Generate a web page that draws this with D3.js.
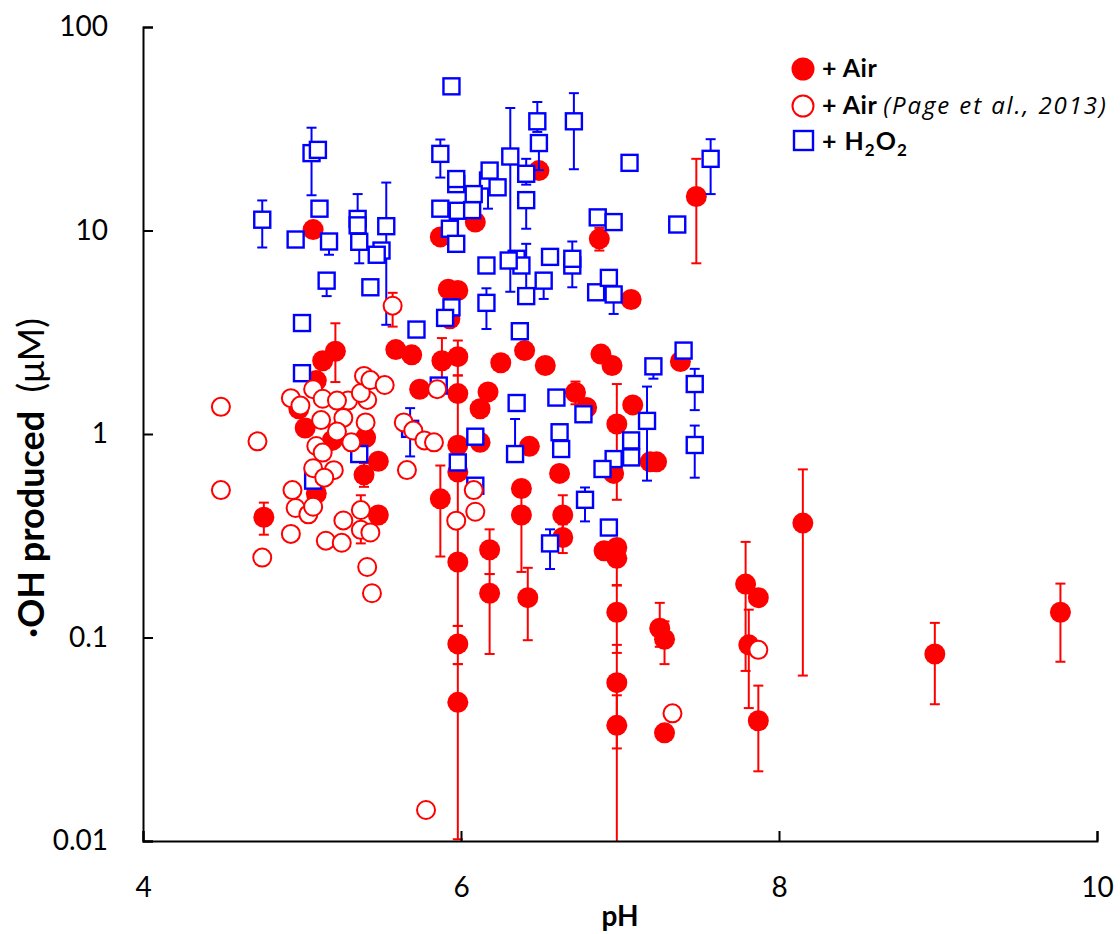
<!DOCTYPE html>
<html>
<head>
<meta charset="utf-8">
<script src="https://cdn.jsdelivr.net/npm/d3@7"></script>
<style>
  body { margin: 0; background: #fff; }
  svg { display: block; font-family: Lato, "Open Sans", sans-serif; }
</style>
</head>
<body>
<div id="chart"></div>
<script>
// + Air (this work)
var airPH = [4.76, 5.07, 5.21, 5.13, 5.59, 5.69, 5.74, 5.88, 5.98, 5.87, 5.92, 5.98, 5.93, 5.87, 5.98, 5.98, 5.98, 5.98, 5.98, 5.98,
  6.09, 6.12, 6.17, 6.12, 6.18, 6.18, 6.25, 6.40, 6.43, 6.38, 6.38, 6.42, 6.49, 6.53, 6.62, 6.64, 6.64, 6.72, 6.79, 6.87,
  6.88, 6.95, 7.07, 7.08, 6.98, 6.96, 6.90, 6.98, 6.98, 6.98, 6.98, 6.98, 7.19, 7.23, 7.25, 7.28, 7.28, 7.38, 7.48, 7.79,
  7.87, 7.81, 7.87, 8.15, 8.98, 9.77, 4.98, 5.02, 5.19, 5.40, 5.39, 5.48, 5.48, 5.09, 5.09];
var airOH = [0.39, 10.1, 2.55, 2.29, 2.60, 2.45, 1.66, 2.29, 2.40, 9.3, 5.15, 5.07, 3.68, 0.48, 1.58, 0.88, 0.65, 0.235, 0.093, 0.048,
  11.0, 1.33, 1.61, 0.91, 0.27, 0.165, 2.24, 2.57, 0.87, 0.54, 0.40, 0.157, 19.7, 2.17, 0.64, 0.40, 0.31, 1.60, 1.35, 9.1,
  2.47, 2.17, 4.58, 1.39, 1.12, 0.64, 0.267, 0.277, 0.245, 0.133, 0.060, 0.037, 0.73, 0.73, 0.111, 0.098, 0.034, 2.27, 14.7, 0.183,
  0.157, 0.092, 0.039, 0.365, 0.083, 0.133, 1.33, 1.07, 0.93, 0.96, 0.63, 0.735, 0.40, 0.51, 1.83];
var airLo = [0.32, null, 1.8, null, null, null, null, 1.83, 1.94, null, null, null, null, 0.25, null, null, 0.25, 0.114, 0.074, 0.0102,
  null, null, null, null, 0.205, 0.083, null, null, null, null, 0.21, 0.097, null, null, null, 0.32, 0.26, 1.4, null, 7.97,
  null, null, null, null, 0.475, null, null, null, 0.181, 0.084, 0.0285, 0.005, null, null, 0.09, 0.074, null, null, 6.9, 0.0685,
  null, 0.045, 0.022, 0.065, 0.047, 0.076, null, null, null, null, 0.55, null, null, null, null];
var airHi = [0.46, null, 3.5, null, null, null, null, 2.96, 2.88, null, null, null, null, 0.70, null, null, 1.94, null, 0.114, 0.074,
  null, null, null, null, 0.34, 0.205, null, null, null, null, 0.50, 0.22, null, null, null, 0.50, 0.36, 1.81, null, 10.3,
  null, null, null, null, 1.76, null, null, null, 0.30, 0.18, 0.092, 0.052, null, null, 0.148, 0.12, null, null, 22.5, 0.295,
  null, 0.137, 0.058, 0.67, 0.118, 0.184, null, null, null, null, 0.72, null, null, null, null];

// + Air (Page et al., 2013)
var pagePH = [4.49, 4.72, 4.49, 4.75, 4.93, 4.94, 4.96, 5.04, 5.07, 4.93, 5.07, 4.99, 5.13, 5.29, 5.41, 5.37, 5.22, 5.12, 5.26, 5.40,
  5.22, 5.31, 5.09, 5.13, 5.07, 5.20, 5.14, 5.39, 5.43, 5.52, 5.64, 5.70, 5.77, 5.83, 5.66, 5.85, 5.57, 5.15, 5.25, 5.26,
  5.37, 5.37, 5.43, 5.41, 5.44, 5.97, 6.08, 6.09, 5.78, 7.87, 7.33];
var pageOH = [1.36, 0.92, 0.53, 0.247, 0.323, 0.53, 0.433, 0.403, 0.439, 1.50, 1.66, 1.38, 1.49, 1.46, 1.47, 1.59, 1.46, 1.17, 1.20, 1.14,
  1.03, 0.91, 0.873, 0.81, 0.679, 0.664, 0.61, 1.93, 1.84, 1.74, 1.14, 1.04, 0.93, 0.91, 0.665, 1.66, 4.27, 0.299, 0.292, 0.376,
  0.423, 0.338, 0.328, 0.222, 0.165, 0.375, 0.53, 0.415, 0.0142, 0.087, 0.0424];
var pageLo = pageOH.map(function(d, i) { return i === 36 ? 3.37 : (i === 40 ? 0.29 : null); });
var pageHi = pageOH.map(function(d, i) { return i === 36 ? 4.94 : (i === 40 ? 0.50 : null); });

// + H2O2
var h2o2PH = [4.75, 5.94, 5.06, 5.10, 5.11, 4.96, 5.17, 5.35, 5.35, 5.36, 5.53, 5.50, 5.47, 5.87, 5.97, 5.97, 5.87, 5.98, 6.07, 5.93,
  5.97, 5.155, 5.43, 5.00, 5.72, 5.94, 5.90, 6.48, 6.49, 6.71, 6.31, 7.06, 7.57, 7.36, 6.86, 6.96, 6.41, 6.41, 6.17, 6.23,
  6.18, 6.08, 6.16, 6.35, 6.38, 6.41, 6.56, 6.52, 6.70, 6.70, 6.85, 6.93, 6.96, 6.16, 6.37, 7.40, 7.21, 7.47, 7.47, 7.17,
  7.07, 7.07, 6.96, 6.89, 6.60, 6.77, 6.35, 6.09, 6.34, 6.62, 6.63, 5.98, 6.09, 6.78, 6.93, 6.56, 5.00, 5.36, 5.07, 5.68,
  5.86, 6.30];
var h2o2OH = [11.3, 51.1, 24.0, 24.9, 12.8, 9.03, 8.83, 11.4, 10.6, 8.8, 10.5, 7.97, 7.6, 23.8, 16.9, 17.9, 12.8, 12.5, 12.6, 10.2,
  8.6, 5.67, 5.26, 3.51, 3.26, 4.19, 3.72, 34.4, 26.9, 34.4, 23.1, 21.5, 22.5, 10.7, 11.6, 11.0, 19.0, 14.1, 17.6, 16.3,
  19.7, 15.1, 6.73, 7.26, 6.73, 4.76, 7.42, 5.67, 6.73, 7.26, 4.97, 5.85, 4.85, 4.41, 3.20, 2.57, 2.15, 1.76, 0.883, 1.16,
  0.93, 0.767, 0.753, 0.673, 1.51, 1.25, 1.42, 0.97, 0.797, 1.02, 0.844, 0.725, 0.557, 0.475, 0.347, 0.29, 1.99, 0.797, 0.59, 1.06,
  1.73, 7.12];
var h2o2Lo = [8.25, null, 14.9, null, null, null, 7.6, null, null, 6.9, 3.44, null, null, 18.2, null, null, null, null, null, null,
  null, 4.76, null, null, null, null, null, 30.5, 19.8, 20.0, 5.0, null, 15.1, null, null, null, 16.8, 10.2, 12.8, null,
  null, null, null, null, null, null, null, 4.61, 5.26, null, null, null, 3.89, 3.28, null, null, 1.87, 1.31, 0.61, 0.59,
  null, null, null, null, null, null, null, null, null, null, null, null, null, 0.372, null, 0.217, null, null, null, 0.776,
  null, null];
var h2o2Hi = [14.05, null, 32.0, null, null, null, null, 15.1, null, null, 17.2, null, null, 28.0, null, null, null, null, null, null,
  null, null, null, null, null, null, null, 42.8, null, 47.3, 40.0, null, 28.1, null, null, null, 22.5, null, null, null,
  null, null, null, null, null, 8.6, null, null, 8.83, null, null, null, null, 5.2, null, null, null, 2.09, 1.10, 1.71,
  null, null, null, null, null, null, null, null, 1.185, null, null, null, null, 0.546, null, 0.34, null, null, null, 1.34,
  null, null];

var xTicks = [4, 6, 8, 10];
var yTicks = [0.01, 0.1, 1, 10, 100];

var width = 1120, height = 934;
var red = '#ff0000', blue = '#0000ff';

var svg = d3.select('#chart')
    .append('svg')
    .attr('width', width)
    .attr('height', height);

var x = d3.scaleLinear().domain([4, 10]).range([143, 1097]);
var y = d3.scaleLog().domain([0.01, 100]).range([841, 27]);

svg.append('defs').append('clipPath')
    .attr('id', 'plot')
    .append('rect')
    .attr('x', 143).attr('y', 27)
    .attr('width', 954).attr('height', 814);

function rows(ph, oh, lo, hi) {
    return ph.map(function(p, i) {
        return { p: p, v: oh[i], lo: lo[i], hi: hi[i] };
    });
}

function errorBars(g, data, color) {
    var segs = [];
    data.forEach(function(d) {
        if (d.lo != null) segs.push({ p: d.p, a: d.v, b: d.lo });
        if (d.hi != null) segs.push({ p: d.p, a: d.v, b: d.hi });
    });
    var eg = g.append('g')
        .attr('clip-path', 'url(#plot)')
        .attr('stroke', color)
        .attr('stroke-width', 2);
    eg.selectAll('line.stem')
        .data(segs)
        .enter()
        .append('line')
        .attr('x1', function(d) { return x(d.p); })
        .attr('x2', function(d) { return x(d.p); })
        .attr('y1', function(d) { return y(d.a); })
        .attr('y2', function(d) { return y(d.b); });
    eg.selectAll('line.cap')
        .data(segs)
        .enter()
        .append('line')
        .attr('x1', function(d) { return x(d.p) - 5; })
        .attr('x2', function(d) { return x(d.p) + 5; })
        .attr('y1', function(d) { return y(d.b); })
        .attr('y2', function(d) { return y(d.b); });
}

var airData = rows(airPH, airOH, airLo, airHi);
var pageData = rows(pagePH, pageOH, pageLo, pageHi);
var h2o2Data = rows(h2o2PH, h2o2OH, h2o2Lo, h2o2Hi);

var marks = svg.append('g');

// filled circles first
errorBars(marks, airData, red);
marks.append('g').selectAll('circle')
    .data(airData)
    .enter()
    .append('circle')
    .attr('cx', function(d) { return x(d.p); })
    .attr('cy', function(d) { return y(d.v); })
    .attr('r', 10.5)
    .attr('fill', red);

// squares
errorBars(marks, h2o2Data, blue);
marks.append('g').selectAll('rect')
    .data(h2o2Data)
    .enter()
    .append('rect')
    .attr('x', function(d) { return x(d.p) - 8; })
    .attr('y', function(d) { return y(d.v) - 8; })
    .attr('width', 16)
    .attr('height', 16)
    .attr('fill', '#fff')
    .attr('stroke', blue)
    .attr('stroke-width', 2.4);

// open circles on top
errorBars(marks, pageData, red);
marks.append('g').selectAll('circle')
    .data(pageData)
    .enter()
    .append('circle')
    .attr('cx', function(d) { return x(d.p); })
    .attr('cy', function(d) { return y(d.v); })
    .attr('r', 9)
    .attr('fill', '#fff')
    .attr('stroke', red)
    .attr('stroke-width', 2);

// axes
var yAxis = svg.append('g')
    .attr('transform', 'translate(143,0)')
    .call(d3.axisLeft(y)
        .tickValues(yTicks)
        .tickSize(-10)
        .tickPadding(35)
        .tickFormat(d3.format('~g')));

var xAxis = svg.append('g')
    .attr('transform', 'translate(0,841)')
    .call(d3.axisBottom(x)
        .tickValues(xTicks)
        .tickSize(-10)
        .tickPadding(36)
        .tickFormat(d3.format('d')));

[yAxis, xAxis].forEach(function(a) {
    a.select('.domain').attr('stroke', '#000').attr('stroke-width', 2);
    a.selectAll('.tick line').attr('stroke', '#000').attr('stroke-width', 2);
    a.selectAll('.tick text')
        .attr('fill', '#000')
        .style('font-family', 'Lato, sans-serif')
        .style('font-size', '28px');
});

// axis titles
svg.append('text')
    .attr('x', 620)
    .attr('y', 926)
    .attr('text-anchor', 'middle')
    .style('font-size', '28px')
    .style('font-weight', 'bold')
    .text('pH');

var yTitle = svg.append('text')
    .attr('transform', 'translate(44,478) rotate(-90)')
    .attr('text-anchor', 'middle')
    .style('font-size', '36px');
yTitle.append('tspan').style('font-weight', 'bold').text('\u00b7OH produced');
yTitle.append('tspan').text('\u00a0\u00a0(\u03bcM)');

// legend
var legend = svg.append('g');
legend.append('circle').attr('cx', 803).attr('cy', 69).attr('r', 11.5).attr('fill', red);
legend.append('circle').attr('cx', 803).attr('cy', 106).attr('r', 10.5)
    .attr('fill', '#fff').attr('stroke', red).attr('stroke-width', 2);
legend.append('rect').attr('x', 794).attr('y', 131).attr('width', 19).attr('height', 19)
    .attr('fill', '#fff').attr('stroke', blue).attr('stroke-width', 2.4);

var t1 = legend.append('text').attr('x', 822).attr('y', 77)
    .style('font-size', '25px').style('font-weight', 'bold').style('letter-spacing', '0.5px');
t1.text('+ Air');
var t2 = legend.append('text').attr('x', 822).attr('y', 114).style('font-size', '25px');
t2.append('tspan').style('font-weight', 'bold').style('letter-spacing', '0.5px').text('+ Air ');
t2.append('tspan')
    .style('font-style', 'italic')
    .style('font-family', '"Open Sans", sans-serif')
    .style('font-size', '24px')
    .style('letter-spacing', '1.9px')
    .text('(Page et al., 2013)');
var t3 = legend.append('text').attr('x', 822).attr('y', 150)
    .style('font-size', '25px').style('font-weight', 'bold').style('letter-spacing', '1px');
t3.append('tspan').text('+ H');
t3.append('tspan').attr('dy', 6).style('font-size', '17px').text('2');
t3.append('tspan').attr('dy', -6).text('O');
t3.append('tspan').attr('dy', 6).style('font-size', '17px').text('2');
</script>
</body>
</html>
